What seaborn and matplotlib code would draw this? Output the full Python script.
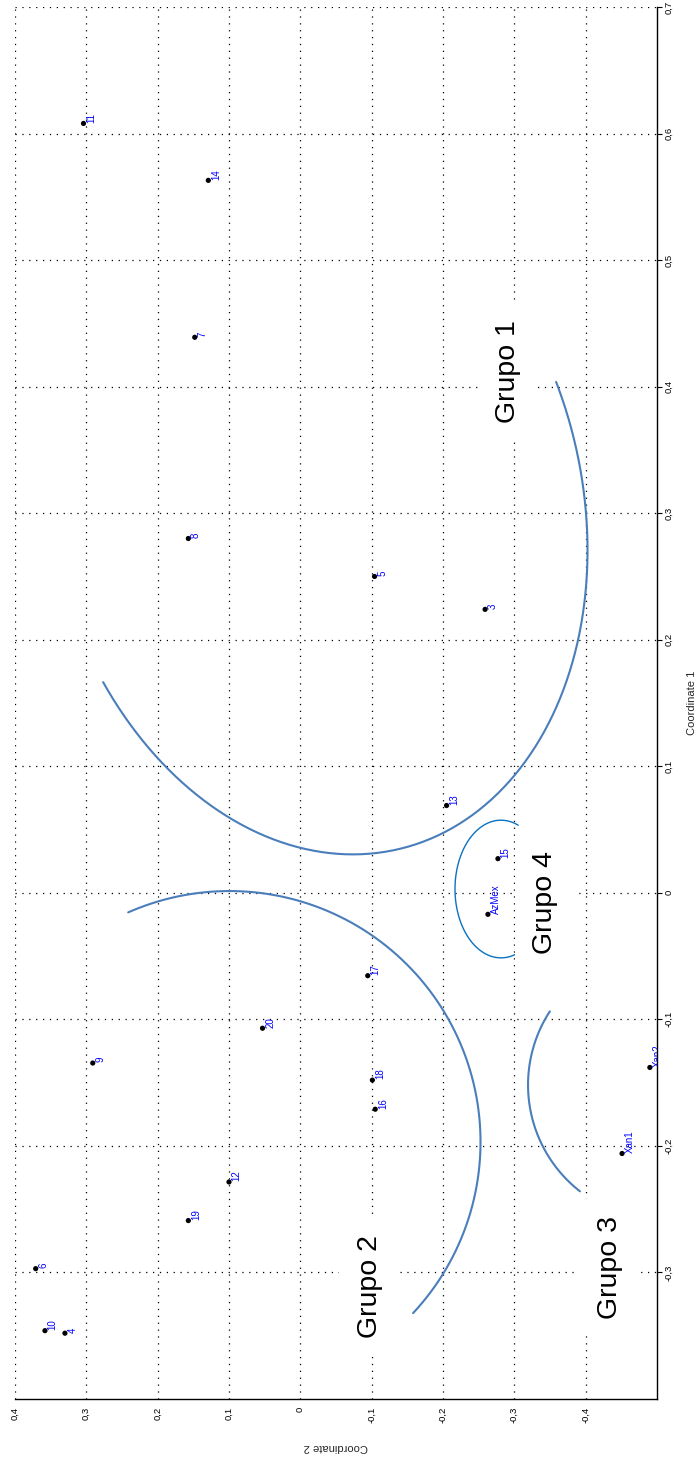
import numpy as np
import matplotlib
matplotlib.use("Agg")
import matplotlib.pyplot as plt
import seaborn as sns

# Style settings
sns.set_style("white")
plt.rcParams["font.family"] = ["Liberation Sans", "DejaVu Sans"]

# Points (Coordinate 1 runs up the page, Coordinate 2 across, picture is turned)
labels = ["11", "14", "7", "8", "5", "3", "13", "15", "AzMex", "17", "20", "9",
          "18", "16", "Xan2", "Xan1", "12", "19", "6", "10", "4"]
coord1 = [0.608, 0.563, 0.439, 0.280, 0.250, 0.224, 0.069, 0.027, -0.017, -0.0655,
          -0.107, -0.1345, -0.148, -0.171, -0.138, -0.206, -0.2285, -0.259, -0.297,
          -0.346, -0.348]
coord2 = [0.304, 0.129, 0.148, 0.157, -0.104, -0.259, -0.205, -0.277, -0.263, -0.0945,
          0.053, 0.291, -0.101, -0.105, -0.490, -0.451, 0.100, 0.157, 0.371, 0.358,
          0.330]

# Ticks
c2_ticks = [0.4, 0.3, 0.2, 0.1, 0.0, -0.1, -0.2, -0.3, -0.4]
c2_ticklabels = ["0,4", "0,3", "0,2", "0,1", "0", "-0,1", "-0,2", "-0,3", "-0,4"]
c1_ticks = [-0.3, -0.2, -0.1, 0.0, 0.1, 0.2, 0.3, 0.4, 0.5, 0.6, 0.7]
c1_ticklabels = ["-0,3", "-0,2", "-0,1", "0", "0,1", "0,2", "0,3", "0,4", "0,5", "0,6", "0,7"]

# Group outlines: centre (c2, c1), axis vectors u and v, start/end angle (deg)
group_names = ["Grupo 1", "Grupo 2", "Grupo 3", "Grupo 4"]
arc_centres = [(-0.0214, 0.3088), (0.0993, -0.1969), (-0.5085, -0.1518), (-0.2813, 0.0030)]
arc_u = [(-0.1192, -0.2739), (-0.3519, 0.0), (-0.1893, 0.0), (-0.0645, 0.0)]
arc_v = [(-0.3621, 0.0500), (0.0, 0.1983), (0.0, 0.1067), (0.0, 0.0544)]
arc_angles = [(-69.6, 99.6), (-43.0, 113.8), (147.0, 232.0), (68.0, 292.0)]
arc_colors = ["#4a7ebb", "#4a7ebb", "#4a7ebb", "#0a72c2"]
arc_widths = [1.5, 1.5, 1.5, 1.0]
name_pos = [(-0.291, 0.412), (-0.097, -0.311), (-0.4335, -0.296), (-0.343, -0.0076)]

fig = plt.figure(figsize=(6.96, 14.6), dpi=100)
ax = fig.add_axes([0.02155, 0.04178, 0.92241, 0.95342])

sns.scatterplot(x=coord2, y=coord1, color="black", s=14, edgecolor="none", ax=ax, zorder=4)

for lab, x, y in zip(labels, coord2, coord1):
    ax.annotate(lab, (x, y), xytext=(2, 0.5), textcoords="offset points", rotation=90,
                ha="left", va="bottom", color="blue", fontsize=7, clip_on=True, zorder=5)

for cen, u, v, (t1, t2), col, lw in zip(arc_centres, arc_u, arc_v, arc_angles, arc_colors, arc_widths):
    t = np.radians(np.linspace(t1, t2, 300))
    xs = cen[0] + np.cos(t) * u[0] + np.sin(t) * v[0]
    ys = cen[1] + np.cos(t) * u[1] + np.sin(t) * v[1]
    ax.plot(xs, ys, color=col, linewidth=lw, zorder=3)

for name, (x, y) in zip(group_names, name_pos):
    ax.text(x, y, name, rotation=90, ha="center", va="center", fontsize=20.5,
            color="black", zorder=3.5,
            bbox=dict(boxstyle="square,pad=0.6", facecolor="white", edgecolor="none"))

ax.set_xlim(0.4, -0.5)
ax.set_ylim(-0.4, 0.7)
ax.set_xticks(c2_ticks)
ax.set_xticklabels(c2_ticklabels)
ax.set_yticks(c1_ticks)
ax.set_yticklabels(c1_ticklabels)
ax.yaxis.tick_right()
ax.tick_params(axis="both", direction="out", length=3.5, width=0.8, pad=2,
               labelsize=6.8, colors="black", labelrotation=90)
ax.tick_params(axis="y", left=False, right=True)
for t in ax.get_yticklabels():
    t.set_va("center")
    t.set_ha("left")

ax.grid(True, color="black", linestyle=(0, (1, 4.5)), linewidth=0.9)
ax.set_axisbelow(True)

for side in ["left", "top"]:
    ax.spines[side].set_visible(False)
for side in ["bottom", "right"]:
    ax.spines[side].set_visible(True)
    ax.spines[side].set_color("black")
    ax.spines[side].set_linewidth(1.0)

ax.set_xlabel("Coordinate 2", fontsize=8, rotation=180)
ax.xaxis.set_label_coords(0.5, -0.0345)
ax.xaxis.label.set_va("center")
ax.set_ylabel("Coordinate 1", fontsize=8, rotation=90)
ax.yaxis.set_label_position("right")
ax.yaxis.set_label_coords(1.0545, 0.5)
ax.yaxis.label.set_va("center")
ax.yaxis.label.set_ha("center")

fig.savefig("out.png", dpi=100)
